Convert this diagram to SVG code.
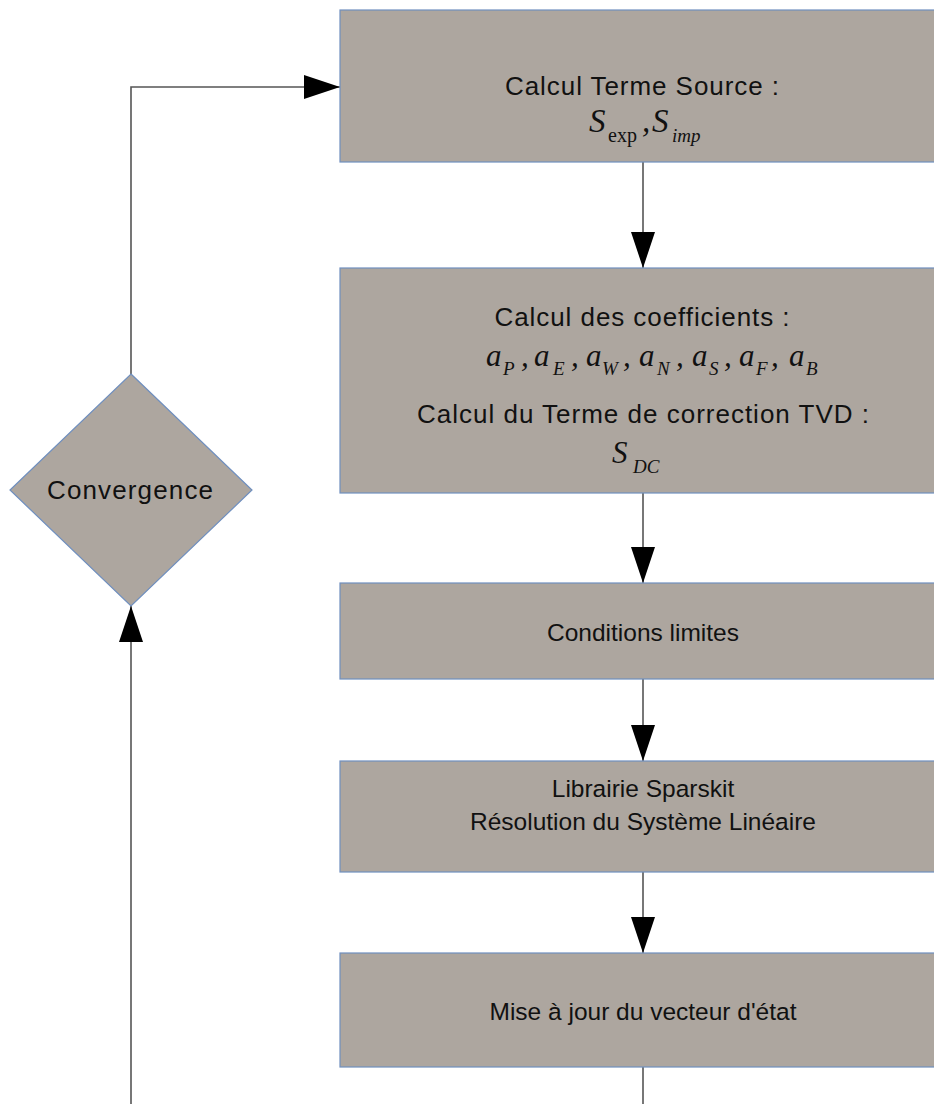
<svg xmlns="http://www.w3.org/2000/svg" width="934" height="1104" viewBox="0 0 934 1104">
<style>
.box{fill:#ada69f;stroke:#6f8fbf;stroke-width:1.2}
.t{font-family:"Liberation Sans",Arial,sans-serif;font-size:24.5px;fill:#111;text-anchor:middle}
.w{font-size:26px}
.m{font-family:"Liberation Serif","Times New Roman",serif;font-style:italic;fill:#111}
.big{font-size:33px}
.a{font-size:31px}
.s{font-size:19px}
.up{font-style:normal;font-size:20px}
.c{fill:none;stroke:#555;stroke-width:1.6}
</style>
<defs>
<marker id="ah" viewBox="0 0 36 24" refX="36" refY="12" markerWidth="36" markerHeight="24" markerUnits="userSpaceOnUse" orient="auto">
<path d="M0,0 L36,12 L0,24 Z" fill="#000"/>
</marker>
</defs>
<g id="connectors">
<line class="c" x1="643" y1="162" x2="643" y2="268" marker-end="url(#ah)"/>
<line class="c" x1="643" y1="493" x2="643" y2="583" marker-end="url(#ah)"/>
<line class="c" x1="643" y1="679" x2="643" y2="761" marker-end="url(#ah)"/>
<line class="c" x1="643" y1="872" x2="643" y2="953" marker-end="url(#ah)"/>
<line class="c" x1="643" y1="1067" x2="643" y2="1104"/>
<polyline class="c" points="131,374 131,87 340,87" marker-end="url(#ah)"/>
<line class="c" x1="131" y1="1104" x2="131" y2="606" marker-end="url(#ah)"/>
</g>
<g id="n1">
<rect class="box" x="340" y="10" width="610" height="152"/>
<text class="t w" x="642" y="95" textLength="274" lengthAdjust="spacing">Calcul Terme Source :</text>
<g class="m">
<text class="big" x="589" y="132">S</text>
<text class="up" x="608" y="142">exp</text>
<text class="big" x="642" y="132">,</text>
<text class="big" x="652" y="132">S</text>
<text class="s" x="672" y="142">imp</text>
</g>
</g>
<g id="n2">
<rect class="box" x="340" y="268" width="610" height="225"/>
<text class="t w" x="642" y="326" textLength="295" lengthAdjust="spacing">Calcul des coefficients :</text>
<g class="m">
<text class="a" x="486" y="366">a</text><text class="s" x="503" y="375">P</text><text class="a" x="521" y="366">,</text>
<text class="a" x="534" y="366">a</text><text class="s" x="553" y="375">E</text><text class="a" x="571" y="366">,</text>
<text class="a" x="586" y="366">a</text><text class="s" x="602" y="375">W</text><text class="a" x="623" y="366">,</text>
<text class="a" x="639" y="366">a</text><text class="s" x="657" y="375">N</text><text class="a" x="676" y="366">,</text>
<text class="a" x="692" y="366">a</text><text class="s" x="709" y="375">S</text><text class="a" x="724" y="366">,</text>
<text class="a" x="739" y="366">a</text><text class="s" x="756" y="375">F</text><text class="a" x="771" y="366">,</text>
<text class="a" x="789" y="366">a</text><text class="s" x="806" y="375">B</text>
</g>
<text class="t w" x="643" y="423" textLength="452" lengthAdjust="spacing">Calcul du Terme de correction TVD :</text>
<g class="m">
<text class="a" x="612" y="463">S</text>
<text class="s" x="633" y="473">DC</text>
</g>
</g>
<g id="n3">
<rect class="box" x="340" y="583" width="610" height="96"/>
<text class="t" x="643" y="641">Conditions limites</text>
</g>
<g id="n4">
<rect class="box" x="340" y="761" width="610" height="111"/>
<text class="t" x="643" y="797">Librairie Sparskit</text>
<text class="t" x="643" y="830">Résolution du Système Linéaire</text>
</g>
<g id="n5">
<rect class="box" x="340" y="953" width="610" height="114"/>
<text class="t" x="643" y="1020">Mise à jour du vecteur d'état</text>
</g>
<g id="convergence">
<polygon class="box" points="131,374 252,490 131,606 10,490"/>
<text class="t w" x="130" y="499" textLength="166" lengthAdjust="spacing">Convergence</text>
</g>
</svg>
